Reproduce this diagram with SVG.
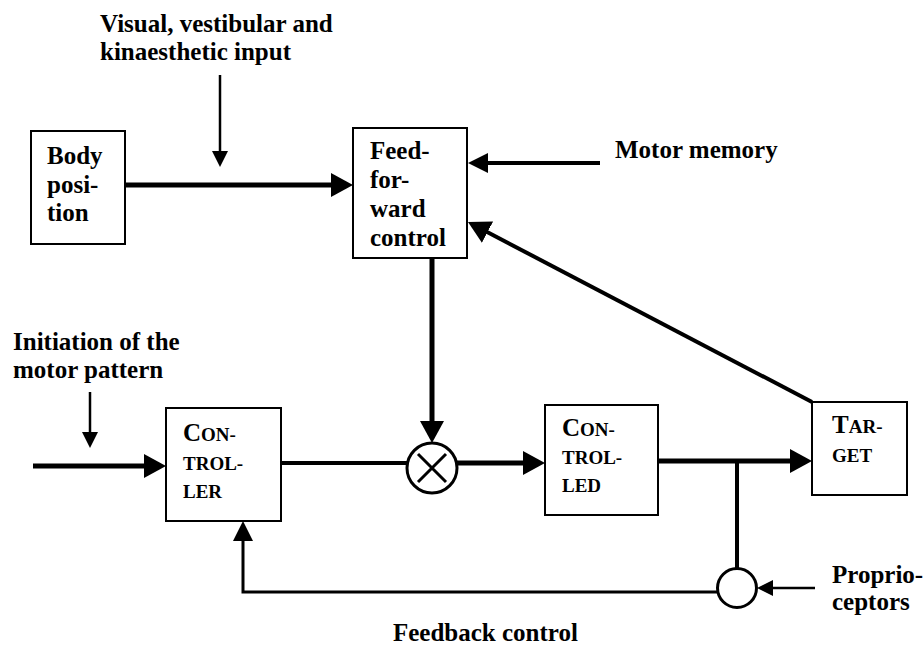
<svg xmlns="http://www.w3.org/2000/svg" width="924" height="645" viewBox="0 0 924 645">
<style>
  .box { fill: #fff; stroke: #000; stroke-width: 2; }
  text { font-family: "Liberation Serif", "DejaVu Serif", "Times New Roman", Times, serif; font-weight: bold; font-size: 25px; fill: #000; }
  .sc { font-size: 19px; }
  .thick { stroke: #000; stroke-width: 5; fill: none; }
  .med { stroke: #000; stroke-width: 4; fill: none; }
  .thin { stroke: #000; stroke-width: 2.5; fill: none; }
  .ring { fill: #fff; stroke: #000; stroke-width: 3; }
</style>
<defs>
  <marker id="big" viewBox="0 0 22 24" refX="16" refY="12" markerWidth="22" markerHeight="24" markerUnits="userSpaceOnUse" orient="auto">
    <path d="M0,0 L22,12 L0,24 z" fill="#000"/>
  </marker>
  <marker id="mid" viewBox="0 0 20 20" refX="15" refY="10" markerWidth="20" markerHeight="20" markerUnits="userSpaceOnUse" orient="auto">
    <path d="M0,0 L20,10 L0,20 z" fill="#000"/>
  </marker>
  <marker id="small" viewBox="0 0 16 16" refX="12" refY="8" markerWidth="16" markerHeight="16" markerUnits="userSpaceOnUse" orient="auto">
    <path d="M0,0 L16,8 L0,16 z" fill="#000"/>
  </marker>
</defs>
<rect width="924" height="645" fill="#fff"/>

<g id="connectors">
  <line class="thick" x1="125" y1="185" x2="347" y2="185" marker-end="url(#big)"/>
  <line class="thin" x1="220" y1="75" x2="220" y2="163" marker-end="url(#small)"/>
  <line class="med" x1="600" y1="163" x2="473" y2="163" marker-end="url(#mid)"/>
  <line class="med" x1="812" y1="402" x2="473.3" y2="224.8" marker-end="url(#big)"/>
  <line class="thick" x1="432" y1="258" x2="432" y2="437" marker-end="url(#big)"/>
  <line class="thick" x1="33" y1="466" x2="160" y2="466" marker-end="url(#big)"/>
  <line class="thin" x1="90" y1="392" x2="90" y2="444" marker-end="url(#small)"/>
  <line class="med" x1="281" y1="463" x2="408" y2="463"/>
  <line class="thick" x1="456" y1="463" x2="539" y2="463" marker-end="url(#big)"/>
  <line class="thick" x1="658" y1="461" x2="806" y2="461" marker-end="url(#big)"/>
  <line class="med" x1="737" y1="461" x2="737" y2="570"/>
  <line class="thin" x1="815" y1="588" x2="761" y2="588" marker-end="url(#small)"/>
  <polyline class="thin" style="stroke-width:3" points="718,592 243,592 243,526" marker-end="url(#mid)"/>
</g>

<g id="body-position">
  <rect class="box" x="31" y="131" width="94" height="113"/>
  <text x="47" y="164">Body</text>
  <text x="47" y="193">posi-</text>
  <text x="47" y="221">tion</text>
</g>

<g id="feed-forward">
  <rect class="box" x="353" y="128" width="114" height="130"/>
  <text x="370" y="159">Feed-</text>
  <text x="370" y="188">for-</text>
  <text x="370" y="217">ward</text>
  <text x="370" y="246">control</text>
</g>

<g id="controller">
  <rect class="box" x="166" y="408" width="115" height="113"/>
  <text x="183" y="441">C<tspan class="sc">ON-</tspan></text>
  <text class="sc" x="183" y="470">TROL-</text>
  <text class="sc" x="183" y="498">LER</text>
</g>

<g id="multiplier">
  <circle class="ring" cx="432" cy="468" r="25"/>
  <path d="M418,454 L446,482 M446,454 L418,482" stroke="#000" stroke-width="3"/>
</g>

<g id="controlled">
  <rect class="box" x="545" y="405" width="113" height="110"/>
  <text x="562" y="436">C<tspan class="sc">ON-</tspan></text>
  <text class="sc" x="562" y="464">TROL-</text>
  <text class="sc" x="562" y="492">LED</text>
</g>

<g id="target">
  <rect class="box" x="812" y="402" width="95" height="93"/>
  <text x="832" y="433">T<tspan class="sc">AR-</tspan></text>
  <text class="sc" x="832" y="462">GET</text>
</g>

<g id="proprio-junction">
  <circle class="ring" cx="737" cy="588" r="19.5"/>
</g>

<g id="labels">
  <text x="100" y="32">Visual, vestibular and</text>
  <text x="100" y="60">kinaesthetic input</text>
  <text x="615" y="158">Motor memory</text>
  <text x="13" y="350">Initiation of the</text>
  <text x="13" y="378">motor pattern</text>
  <text x="832" y="583">Proprio-</text>
  <text x="832" y="610">ceptors</text>
  <text x="393" y="641">Feedback control</text>
</g>
</svg>
